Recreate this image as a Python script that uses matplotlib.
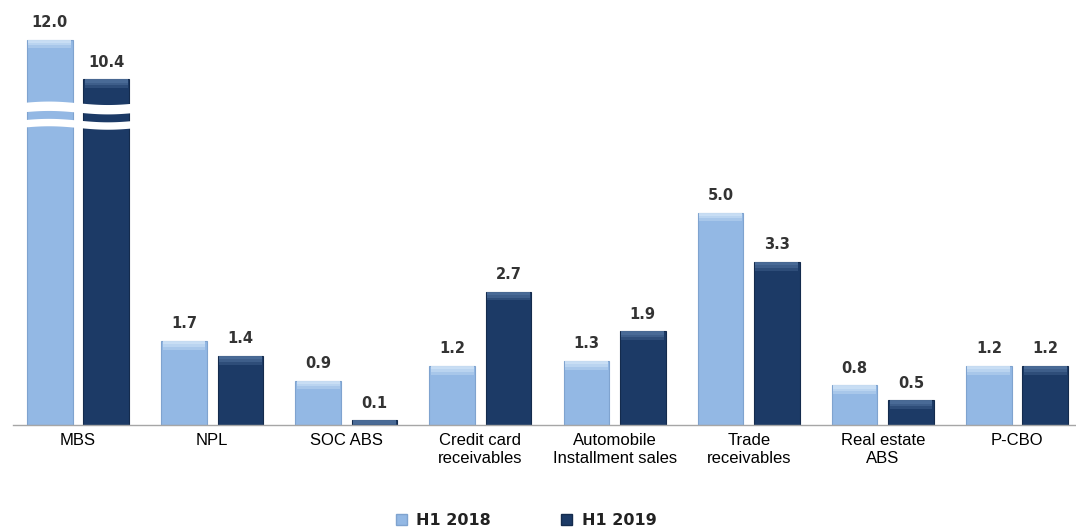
import numpy as np
import matplotlib
matplotlib.use('Agg')
import matplotlib.pyplot as plt
from matplotlib.patches import Patch

categories = ['MBS', 'NPL', 'SOC ABS', 'Credit card\nreceivables',
              'Automobile\nInstallment sales', 'Trade\nreceivables',
              'Real estate\nABS', 'P-CBO']
h1_2018 = [12.0, 1.7, 0.9, 1.2, 1.3, 5.0, 0.8, 1.2]
h1_2019 = [10.4, 1.4, 0.1, 2.7, 1.9, 3.3, 0.5, 1.2]
series_names = ['H1 2018', 'H1 2019']

# broken axis: values above T are squeezed by K
T = 3.6
K = 0.5
def fwd(y):
    y = np.asarray(y, dtype=float)
    return np.where(y <= T, y, T + (y - T) * K)
def inv(d):
    d = np.asarray(d, dtype=float)
    return np.where(d <= T, d, T + (d - T) / K)

light = '#93B8E4'
light_top = '#D2E5F8'
light_edge = '#7FA3CF'
dark = '#1C3A66'
dark_top = '#52739F'
dark_edge = '#142B4D'

fig = plt.figure(figsize=(10.76, 5.31), dpi=100)
ax = fig.add_axes([13/1076, 106/531, 1 - 13/1076, 425/531])
ax.set_yscale('function', functions=(fwd, inv))

x = np.arange(len(categories))
off = 0.21
w = 0.34
for vals, dx, c, ct, ce in [(h1_2018, -off, light, light_top, light_edge),
                            (h1_2019, off, dark, dark_top, dark_edge)]:
    ax.bar(x + dx, vals, width=w, color=c, edgecolor=ce, linewidth=0.8, zorder=2)
    # soft top highlight (a few stacked strips)
    tops = np.array(vals)
    for depth, a in [(0.18, 0.35), (0.12, 0.45), (0.07, 0.6)]:
        bots = inv(np.maximum(fwd(tops) - depth, 0))
        ax.bar(x + dx, tops - bots, bottom=bots, width=w * 0.94, color=ct,
               linewidth=0, zorder=3, alpha=a)
    for xi, v in zip(x + dx, vals):
        ax.annotate(f'{v:.1f}', (xi, v), xytext=(0, 9), textcoords='offset points',
                    ha='center', va='baseline', fontsize=10.5, fontweight='bold',
                    color='#333333')

# break marks on the MBS bars
xs = np.linspace(-0.44, 0.44, 200)
wave = 0.035 * np.sin(2 * np.pi * (xs + 0.44) / 0.88)
for lo, hi in [(6.33, 6.52), (6.02, 6.17)]:
    ax.fill_between(xs, inv(lo + wave), inv(hi + wave), color='white',
                    linewidth=0, zorder=5)

ax.set_xlim(-0.485, 7.44)
ax.set_ylim(0, float(inv(8.6)))
ax.set_xticks(x)
ax.set_xticklabels(categories, fontsize=12, family='Liberation Sans', color='black',
                   linespacing=1.25)
ax.tick_params(axis='x', length=0, pad=6)
ax.set_yticks([])
ax.yaxis.set_minor_locator(matplotlib.ticker.NullLocator())
for s in ['top', 'right', 'left']:
    ax.spines[s].set_visible(False)
ax.spines['bottom'].set_color('#A6A6A6')
ax.spines['bottom'].set_linewidth(1.0)

handles = [Patch(facecolor=light, edgecolor=light_edge),
           Patch(facecolor=dark, edgecolor=dark_edge)]
fig.legend(handles, series_names, loc='lower center', bbox_to_anchor=(0.489, -0.022),
           ncol=2, frameon=False, handlelength=0.7, handleheight=0.7,
           handletextpad=0.6, columnspacing=4.4,
           prop={'weight': 'bold', 'size': 11.5}, labelcolor='#222222')

fig.savefig('out.png', dpi=100)
